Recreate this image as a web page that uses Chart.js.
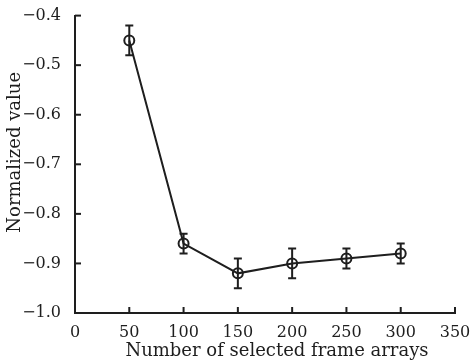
<!DOCTYPE html>
<html>
<head>
    <meta charset="utf-8" />
    <title>Normalized value</title>
    <style>
        html, body { margin: 0; padding: 0; background: #fff; }
        #wrap { width: 473px; height: 360px; }
    </style>
</head>
<body>
    <div id="wrap"><canvas id="myChart" width="473" height="360"></canvas></div>
    <script src="https://cdn.jsdelivr.net/npm/chart.js@4/dist/chart.umd.min.js"></script>
    <script>
        // data
        var frameCounts = [50, 100, 150, 200, 250, 300];
        var normValues = [-0.45, -0.86, -0.92, -0.90, -0.89, -0.88];
        var errValues = [0.03, 0.02, 0.03, 0.03, 0.02, 0.02];
        var xTicks = [0, 50, 100, 150, 200, 250, 300, 350];
        var yTicks = [-1.0, -0.9, -0.8, -0.7, -0.6, -0.5, -0.4];
        var xTitle = 'Number of selected frame arrays';
        var yTitle = 'Normalized value';

        var ink = '#1e1e1e';
        var fontFam = '"DejaVu Serif", "Liberation Serif", serif';

        function minus(s) { return s.replace('-', '\u2212'); }

        // error bars, inward tick marks and axis titles, placed with the chart's scales
        var extras = {
            id: 'extras',
            afterDatasetsDraw: function (chart) {
                var ctx = chart.ctx, xs = chart.scales.x, ys = chart.scales.y;
                var area = chart.chartArea;
                ctx.save();
                ctx.strokeStyle = ink;
                ctx.lineWidth = 2;
                for (var i = 0; i < frameCounts.length; i++) {
                    var px = xs.getPixelForValue(frameCounts[i]);
                    var top = ys.getPixelForValue(normValues[i] + errValues[i]);
                    var bot = ys.getPixelForValue(normValues[i] - errValues[i]);
                    ctx.beginPath();
                    ctx.moveTo(px, top); ctx.lineTo(px, bot);
                    ctx.moveTo(px - 4, top); ctx.lineTo(px + 4, top);
                    ctx.moveTo(px - 4, bot); ctx.lineTo(px + 4, bot);
                    ctx.stroke();
                }
                xTicks.forEach(function (v) {
                    var px = xs.getPixelForValue(v);
                    ctx.beginPath();
                    ctx.moveTo(px, area.bottom); ctx.lineTo(px, area.bottom - 6);
                    ctx.stroke();
                });
                yTicks.forEach(function (v) {
                    var py = ys.getPixelForValue(v);
                    ctx.beginPath();
                    ctx.moveTo(area.left, py); ctx.lineTo(area.left + 6, py);
                    ctx.stroke();
                });

                // titles sit a little off-centre in the original
                ctx.fillStyle = ink;
                ctx.font = '18px ' + fontFam;
                ctx.textAlign = 'center';
                ctx.textBaseline = 'middle';
                ctx.fillText(xTitle, (area.left + area.right) / 2 + 12, area.bottom + 38);
                ctx.translate(15, (area.top + area.bottom) / 2 - 12);
                ctx.rotate(-Math.PI / 2);
                ctx.fillText(yTitle, 0, 0);
                ctx.restore();
            }
        };

        var chartData = {
            datasets: [{
                label: yTitle,
                data: frameCounts.map(function (x, i) { return { x: x, y: normValues[i] }; }),
                borderColor: ink,
                borderWidth: 2,
                backgroundColor: 'rgba(0,0,0,0)',
                pointStyle: 'circle',
                pointRadius: 5,
                pointBorderWidth: 2,
                pointBorderColor: ink,
                pointBackgroundColor: 'rgba(0,0,0,0)',
                tension: 0
            }]
        };

        var context = document.getElementById('myChart').getContext('2d');
        var chart = new Chart(context, {
            type: 'line',
            data: chartData,
            plugins: [extras],
            options: {
                responsive: false,
                animation: false,
                layout: { padding: { top: 14, right: 18, left: 0, bottom: 0 } },
                plugins: { legend: { display: false }, tooltip: { enabled: false } },
                scales: {
                    x: {
                        type: 'linear',
                        min: 0, max: 350,
                        afterBuildTicks: function (s) { s.ticks = xTicks.map(function (v) { return { value: v }; }); },
                        afterFit: function (s) { s.height = 47; },
                        grid: { display: false },
                        border: { display: true, color: ink, width: 2 },
                        ticks: {
                            color: ink, padding: 2, maxRotation: 0,
                            font: { family: fontFam, size: 16 }
                        }
                    },
                    y: {
                        type: 'linear',
                        min: -1.0, max: -0.4,
                        afterBuildTicks: function (s) { s.ticks = yTicks.map(function (v) { return { value: v }; }); },
                        afterFit: function (s) { s.width = 75; },
                        grid: { display: false },
                        border: { display: true, color: ink, width: 2 },
                        ticks: {
                            color: ink, padding: 6,
                            font: { family: fontFam, size: 16 },
                            callback: function (v) { return minus(Number(v).toFixed(1)); }
                        }
                    }
                }
            }
        });
    </script>
</body>
</html>
